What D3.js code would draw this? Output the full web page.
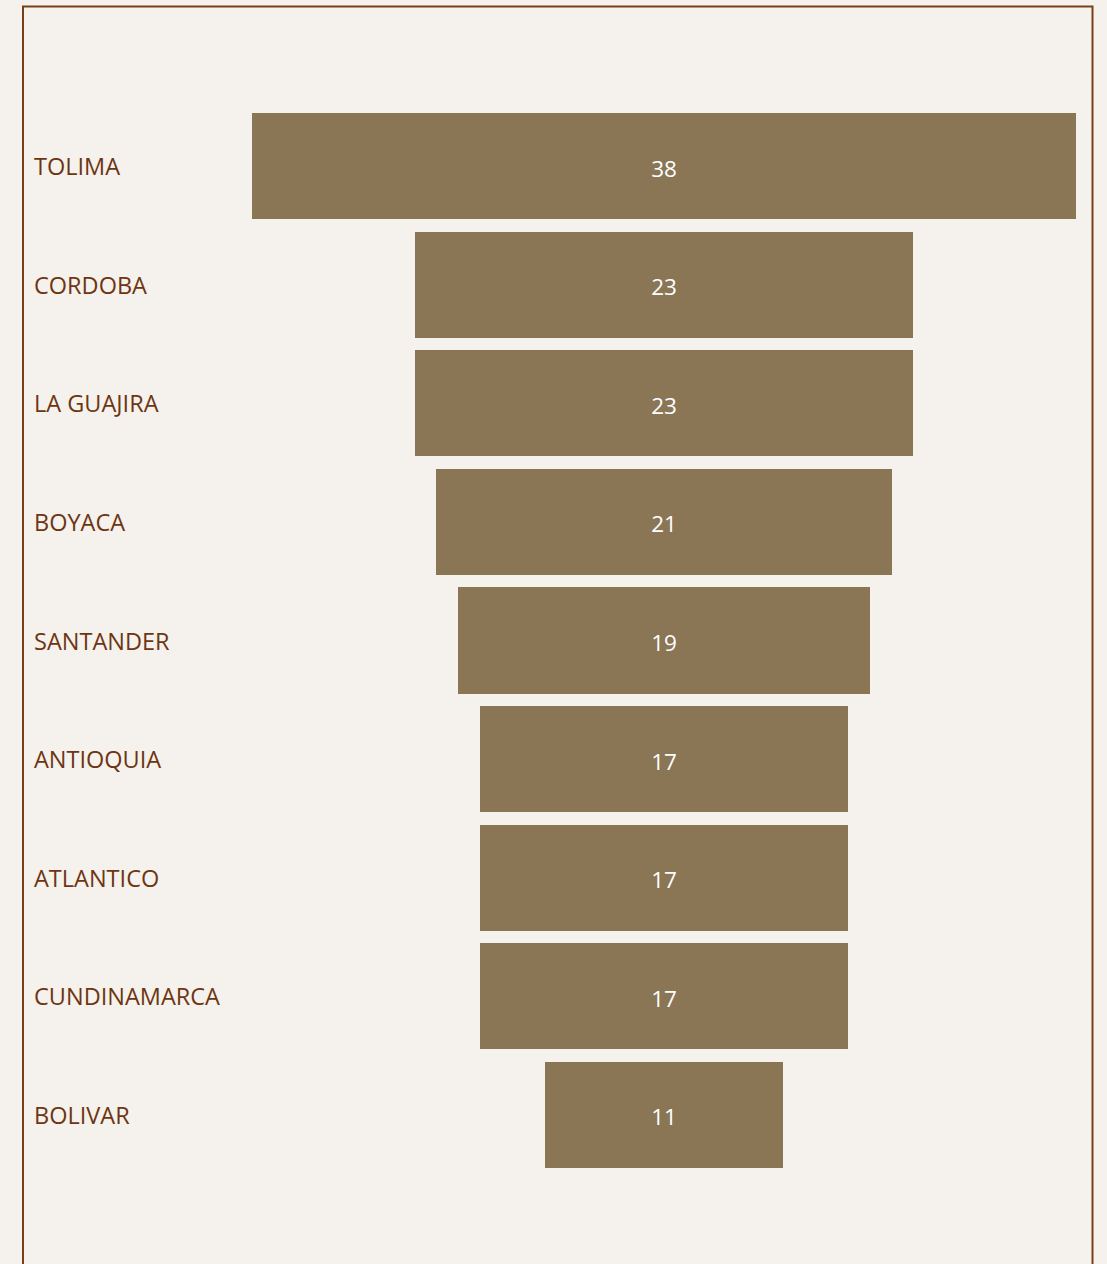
<!DOCTYPE html>
<html><head><meta charset="utf-8">
<script src="https://cdn.jsdelivr.net/npm/d3@7"></script>
<style>html,body{margin:0;padding:0;background:#f5f2ed;overflow:hidden}</style>
</head><body>
<svg id="c" width="1107" height="1264"></svg>
<script>
const categories = ["TOLIMA","CORDOBA","LA GUAJIRA","BOYACA","SANTANDER","ANTIOQUIA","ATLANTICO","CUNDINAMARCA","BOLIVAR"];
const values = [38,23,23,21,19,17,17,17,11];

const svg = d3.select("#c");
svg.append("rect").attr("x",0).attr("y",0).attr("width",1107).attr("height",1264).attr("fill","#f5f2ed");
svg.append("rect").attr("x",23).attr("y",6.5).attr("width",1069.5).attr("height",1300)
  .attr("fill","none").attr("stroke","#7b3f16").attr("stroke-width",2);

const cx = 664;
const x = d3.scaleLinear().domain([0,38]).range([0,824]);
const y = d3.scaleBand().domain(categories).range([106.7,1174.3]).paddingInner(0.1064).paddingOuter(0.0532);

const g = svg.append("g");
g.selectAll("rect.bar").data(categories).join("rect").attr("class","bar")
  .attr("x",(d,i)=>cx - x(values[i])/2).attr("y",d=>y(d))
  .attr("width",(d,i)=>x(values[i])).attr("height",y.bandwidth()).attr("fill","#8a7555")
  .attr("shape-rendering","crispEdges");

g.selectAll("text.val").data(categories).join("text").attr("class","val")
  .attr("x",cx).attr("y",d=>y(d)+y.bandwidth()/2+2).attr("text-anchor","middle")
  .attr("dominant-baseline","central").attr("fill","#ffffff")
  .style("font-family","'Open Sans', sans-serif").style("font-size","22.5px")
  .text((d,i)=>values[i]);

g.selectAll("text.lab").data(categories).join("text").attr("class","lab")
  .attr("x",34).attr("y",d=>y(d)+y.bandwidth()/2).attr("text-anchor","start")
  .attr("dominant-baseline","central").attr("fill","#6e3512")
  .style("font-family","'Open Sans', sans-serif").style("font-size","23.5px")
  .text(d=>d);
</script>
</body></html>
